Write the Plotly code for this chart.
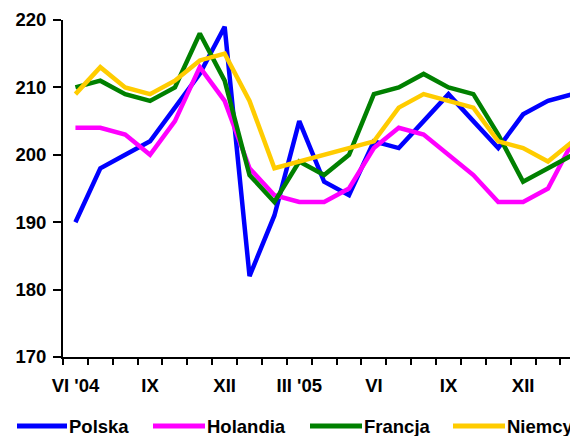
import plotly.graph_objects as go

months = ["VI '04", "VII", "VIII", "IX", "X", "XI", "XII", "I", "II", "III '05", "IV", "V",
          "VI", "VII", "VIII", "IX", "X", "XI", "XII", "I", "II"]
label_every = 3

polska   = [190, 198, 200, 202, 207, 212, 219, 182, 191, 205, 196, 194, 202, 201, 205, 209, 205, 201, 206, 208, 209]
holandia = [204, 204, 203, 200, 205, 213, 208, 198, 194, 193, 193, 195, 201, 204, 203, 200, 197, 193, 193, 195, 202]
francja  = [210, 211, 209, 208, 210, 218, 211, 197, 193, 199, 197, 200, 209, 210, 212, 210, 209, 203, 196, 198, 200]
niemcy   = [209, 213, 210, 209, 211, 214, 215, 208, 198, 199, 200, 201, 202, 207, 209, 208, 207, 202, 201, 199, 202]

series_names = ["Polska", "Holandia", "Francja", "Niemcy"]
series_vals = [polska, holandia, francja, niemcy]
colors = ["#0000FF", "#FF00FF", "#008000", "#FFCC00"]

y_ticks = [170, 180, 190, 200, 210, 220]

FONT = "Liberation Sans, Arial, sans-serif"
FS = 18.5

x = list(range(len(months)))

fig = go.Figure()
for name, vals, col in zip(series_names, series_vals, colors):
    fig.add_trace(go.Scatter(x=x, y=vals, mode="lines", name=name,
                             line=dict(color=col, width=4.5), showlegend=False))

# page body has an 8px default margin; the figure is sized to fit the window
OFF = 8
W, H = 578 - OFF, 436 - OFF
ml, mt = 63 - OFF, 20 - OFF
mb = H - (357 - OFF)
pw = W - ml
ph = H - mt - mb
step = 24.87
x_right = -0.5 + pw / step

fig.update_layout(
    width=W, height=H,
    margin=dict(l=ml, r=0, t=mt, b=mb, pad=0),
    paper_bgcolor="white", plot_bgcolor="white",
    font=dict(family=FONT, size=FS, color="black"),
    showlegend=False,
)
fig.update_xaxes(
    range=[-0.5, x_right], showgrid=False, zeroline=False,
    showline=True, linecolor="black", linewidth=2,
    tickmode="array", tickvals=x[::label_every], ticktext=months[::label_every],
    ticks="", ticklabelstandoff=11,
    tickfont=dict(family=FONT, size=FS, color="black", weight="bold"),
    minor=dict(tickmode="linear", tick0=-0.5, dtick=1, ticks="outside",
               ticklen=6, tickwidth=2, tickcolor="black", showgrid=False),
)
fig.update_yaxes(
    range=[170, 220], showgrid=False, zeroline=False,
    showline=True, linecolor="black", linewidth=2,
    tickmode="array", tickvals=y_ticks, ticks="outside", ticklen=8, tickwidth=2,
    tickcolor="black", ticklabelstandoff=3,
    tickfont=dict(family=FONT, size=FS, color="black", weight="bold"),
)

# custom legend (line sample + bold label), positions in window pixels
leg_y_px = 426 - OFF
leg_items = [(17, 67), (153, 205), (310, 362), (453, 505)]
def px2paper_x(px):
    return (px - OFF - ml) / pw
def px2paper_y(py):
    return (H - mb - py) / ph
for (x0, x1), name, col in zip(leg_items, series_names, colors):
    fig.add_shape(type="line", xref="paper", yref="paper",
                  x0=px2paper_x(x0), x1=px2paper_x(x1),
                  y0=px2paper_y(leg_y_px), y1=px2paper_y(leg_y_px),
                  line=dict(color=col, width=5))
    fig.add_annotation(xref="paper", yref="paper", x=px2paper_x(x1 + 1),
                       y=px2paper_y(leg_y_px), text="<b>" + name + "</b>",
                       showarrow=False, xanchor="left", yanchor="middle",
                       borderpad=0,
                       font=dict(family=FONT, size=FS, color="black"))

fig.write_html("out.html")
